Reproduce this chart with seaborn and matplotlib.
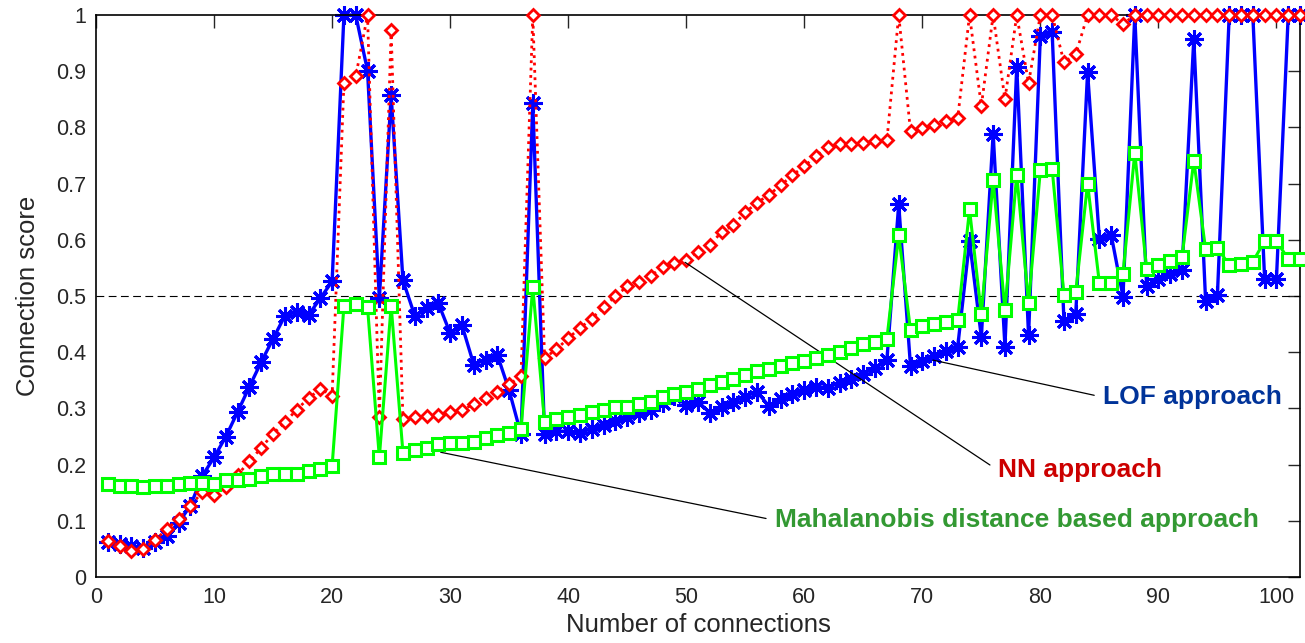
import numpy as np
import pandas as pd
import matplotlib
matplotlib.use("Agg")
import matplotlib.pyplot as plt
import seaborn as sns

# values (connection index 1..102)
connections = list(range(1, 103))

lof_score = [0.063, 0.059, 0.056, 0.052, 0.063, 0.073, 0.097, 0.127, 0.18, 0.213,
             0.25, 0.294, 0.339, 0.383, 0.424, 0.465, 0.472, 0.466, 0.496, 0.526,
             1.0, 1.0, 0.901, 0.496, 0.857, 0.528, 0.465, 0.478, 0.487, 0.434,
             0.448, 0.378, 0.387, 0.395, 0.332, 0.254, 0.843, 0.254, 0.26, 0.259,
             0.257, 0.264, 0.27, 0.277, 0.284, 0.291, 0.298, 0.31, 0.322, 0.306,
             0.312, 0.292, 0.302, 0.312, 0.321, 0.330, 0.304, 0.316, 0.325, 0.332,
             0.339, 0.337, 0.346, 0.352, 0.362, 0.372, 0.386, 0.663, 0.375, 0.384,
             0.393, 0.402, 0.41, 0.598, 0.427, 0.789, 0.41, 0.908, 0.43, 0.963,
             0.969, 0.455, 0.468, 0.898, 0.601, 0.609, 0.499, 1.0, 0.518, 0.53,
             0.539, 0.547, 0.958, 0.491, 0.502, 1.0, 1.0, 1.0, 0.53, 0.53,
             1.0, 1.0]

nn_score = [0.064, 0.055, 0.046, 0.05, 0.066, 0.085, 0.104, 0.127, 0.151, 0.146,
            0.16, 0.182, 0.206, 0.23, 0.255, 0.275, 0.298, 0.318, 0.335, 0.323,
            0.879, 0.891, 1.0, 0.285, 0.973, 0.281, 0.284, 0.286, 0.288, 0.293,
            0.298, 0.307, 0.318, 0.33, 0.343, 0.357, 1.0, 0.39, 0.405, 0.425,
            0.443, 0.46, 0.48, 0.5, 0.517, 0.525, 0.536, 0.552, 0.558, 0.564,
            0.579, 0.591, 0.614, 0.626, 0.649, 0.666, 0.68, 0.697, 0.715, 0.731,
            0.749, 0.766, 0.77, 0.77, 0.773, 0.775, 0.777, 1.0, 0.793, 0.799,
            0.805, 0.812, 0.817, 1.0, 0.838, 1.0, 0.85, 1.0, 0.879, 1.0,
            1.0, 0.916, 0.93, 1.0, 1.0, 1.0, 0.984, 1.0, 1.0, 1.0,
            1.0, 1.0, 1.0, 1.0, 1.0, 1.0, 1.0, 1.0, 1.0, 1.0,
            1.0, 1.0]

maha_score = [0.165, 0.162, 0.162, 0.16, 0.162, 0.162, 0.165, 0.168, 0.168, 0.165,
              0.172, 0.173, 0.175, 0.179, 0.183, 0.183, 0.183, 0.189, 0.192, 0.198,
              0.482, 0.485, 0.48, 0.213, 0.483, 0.221, 0.226, 0.23, 0.237, 0.238,
              0.239, 0.241, 0.247, 0.252, 0.257, 0.264, 0.516, 0.275, 0.281, 0.284,
              0.289, 0.293, 0.298, 0.303, 0.303, 0.308, 0.312, 0.32, 0.325, 0.33,
              0.335, 0.341, 0.347, 0.352, 0.359, 0.366, 0.371, 0.375, 0.38, 0.384,
              0.39, 0.395, 0.4, 0.407, 0.414, 0.419, 0.424, 0.608, 0.439, 0.446,
              0.45, 0.453, 0.458, 0.654, 0.468, 0.706, 0.475, 0.716, 0.487, 0.724,
              0.726, 0.502, 0.507, 0.7, 0.523, 0.523, 0.539, 0.755, 0.548, 0.555,
              0.562, 0.569, 0.741, 0.583, 0.586, 0.555, 0.557, 0.561, 0.598, 0.598,
              0.566, 0.566]

threshold = 0.5

df = pd.DataFrame({'conn': connections, 'lof': lof_score,
                   'nn': nn_score, 'maha': maha_score})

sns.set_style("white")
plt.rcParams['font.family'] = ['Liberation Sans', 'DejaVu Sans']

fig = plt.figure(figsize=(13.05, 6.43), dpi=100)
ax = fig.add_axes([0.0736, 0.1026, 0.9226, 0.874])

ax.axhline(threshold, color='black', linestyle=(0, (7, 4)), linewidth=0.8, zorder=1)

# LOF
sns.lineplot(data=df, x='conn', y='lof', ax=ax, color='#0000ff', linewidth=2.4,
             marker=(8, 2, 0), markersize=13, markeredgewidth=2.2,
             markeredgecolor='#0000ff', zorder=2, clip_on=False)
# NN
sns.lineplot(data=df, x='conn', y='nn', ax=ax, color='#ff0000', linewidth=2.0,
             linestyle=':', marker='D', markersize=6.3, markeredgewidth=2.0,
             markerfacecolor='white', markeredgecolor='#ff0000', zorder=3,
             clip_on=False)
# Mahalanobis
sns.lineplot(data=df, x='conn', y='maha', ax=ax, color='#00ff00', linewidth=2.2,
             marker='s', markersize=8.3, markeredgewidth=2.2,
             markerfacecolor='white', markeredgecolor='#00ff00', zorder=4,
             clip_on=False)

ax.set_xlim(0, 102)
ax.set_ylim(0, 1)
ax.set_xticks(np.arange(0, 101, 10))
ax.set_yticks(np.arange(0, 1.01, 0.1))
ax.set_yticklabels(['0', '0.1', '0.2', '0.3', '0.4', '0.5', '0.6', '0.7', '0.8', '0.9', '1'])
ax.tick_params(direction='in', length=9, width=1, top=True, right=True,
               labelsize=15.5, pad=7)
for sp in ax.spines.values():
    sp.set_color('black')
    sp.set_linewidth(1.2)

ax.set_xlabel('Number of connections', fontsize=18.5, labelpad=4)
ax.set_ylabel('Connection score', fontsize=18.5, labelpad=12)

line_kw = dict(arrowstyle='-', color='black', lw=0.9, relpos=(0, 0.5),
               shrinkA=4, shrinkB=0)
ax.annotate('LOF approach', xy=(70.9, 0.386), xytext=(85.3, 0.32),
            color='#003399', fontsize=19, fontweight='bold',
            ha='left', va='center', arrowprops=line_kw)
ax.annotate('NN approach', xy=(49.9, 0.56), xytext=(76.4, 0.19),
            color='#cc0000', fontsize=19, fontweight='bold',
            ha='left', va='center', arrowprops=line_kw)
ax.annotate('Mahalanobis distance based approach', xy=(29.2, 0.222),
            xytext=(57.5, 0.101), color='#339933', fontsize=19,
            fontweight='bold', ha='left', va='center', arrowprops=line_kw)

fig.savefig('out.png', dpi=100)
